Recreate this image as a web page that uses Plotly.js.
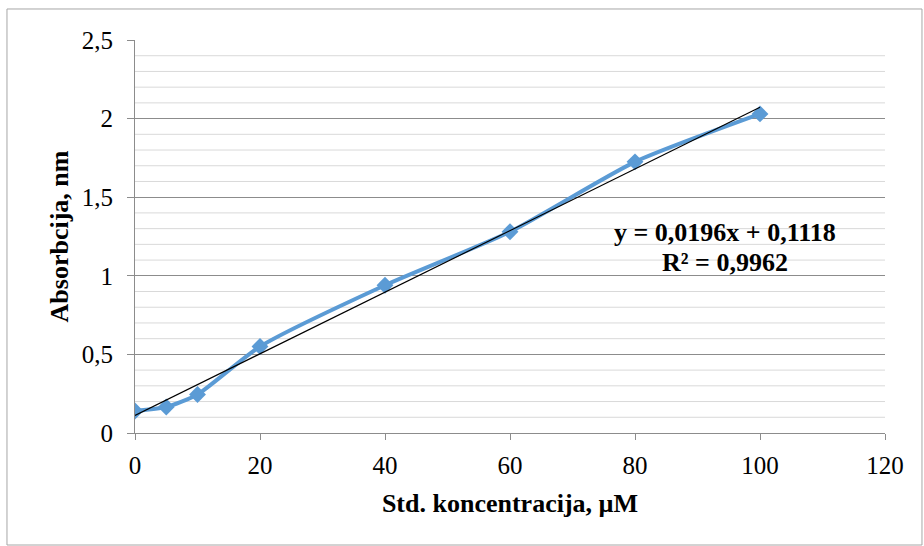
<!DOCTYPE html>
<html>
<head>
<meta charset="utf-8">
<script src="https://cdn.plot.ly/plotly-3.0.1.min.js"></script>
<style>html,body{margin:0;padding:0;background:#fff;}#chart{width:924px;height:546px;}</style>
</head>
<body>
<div id="chart"></div>
<script>
const concentrations = [0, 5, 10, 20, 40, 60, 80, 100];
const absorbance = [0.14, 0.165, 0.245, 0.55, 0.94, 1.28, 1.725, 2.03];
const trendX = [0, 100];
const trendY = [0.1118, 2.0718];
const xTicks = [0, 20, 40, 60, 80, 100, 120];
const yTicks = [0, 0.5, 1, 1.5, 2, 2.5];
const yTickLabels = ['0', '0,5', '1', '1,5', '2', '2,5'];
const equationLines = ['y = 0,0196x + 0,1118', 'R² = 0,9962'];

const font = 'Liberation Serif';

const minorY = [];
for (let i = 1; i < 25; i++) { if (i % 5 !== 0) minorY.push(i / 10); }

const shapes = minorY.map(v => ({
  type: 'line', xref: 'paper', x0: 0, x1: 1, yref: 'y', y0: v, y1: v,
  line: {color: '#d9d9d9', width: 1}, layer: 'below'
}));
shapes.push({
  type: 'rect', xref: 'paper', yref: 'paper',
  x0: -0.1707, x1: 1.0493, y0: -0.285, y1: 1.0789,
  line: {color: '#a6a6a6', width: 1}, fillcolor: 'rgba(0,0,0,0)'
});

const data = [
  {
    x: concentrations, y: absorbance, type: 'scatter', mode: 'lines+markers',
    line: {color: '#5b9bd5', width: 4, shape: 'spline', smoothing: 0.6},
    marker: {symbol: 'diamond', size: 13, color: '#5b9bd5'},
    hoverinfo: 'x+y'
  },
  {
    x: trendX, y: trendY, type: 'scatter', mode: 'lines',
    line: {color: '#000000', width: 1.2}, hoverinfo: 'skip'
  }
];

const annotations = equationLines.map((t, i) => ({
  x: 94.4, y: 1.277 - i * 0.195, xref: 'x', yref: 'y', text: '<b>' + t + '</b>',
  showarrow: false, align: 'center',
  font: {family: font, size: 26, color: '#000'}
}));

const layout = {
  width: 924, height: 546,
  margin: {l: 135, r: 39, t: 40, b: 113},
  paper_bgcolor: '#ffffff', plot_bgcolor: '#ffffff',
  showlegend: false,
  font: {family: font, color: '#000', size: 25},
  xaxis: {
    range: [0, 120], tickvals: xTicks, ticktext: xTicks.map(String),
    showgrid: false, zeroline: false,
    showline: true, linecolor: '#8c8c8c', linewidth: 1,
    ticks: 'outside', ticklen: 6, tickcolor: '#8c8c8c',
    ticklabelstandoff: 4,
    tickfont: {family: font, size: 25, color: '#000'},
    title: {text: '<b>Std. koncentracija, µM</b>', font: {family: font, size: 26, color: '#000'}, standoff: 15}
  },
  yaxis: {
    range: [0, 2.5], tickvals: yTicks, ticktext: yTickLabels,
    showgrid: true, gridcolor: '#8c8c8c', gridwidth: 1,
    zeroline: false,
    showline: true, linecolor: '#8c8c8c', linewidth: 1,
    ticks: 'outside', ticklen: 7, tickcolor: '#8c8c8c',
    ticklabelstandoff: 9,
    tickfont: {family: font, size: 25, color: '#000'},
    title: {text: '<b>Absorbcija, nm</b>', font: {family: font, size: 26, color: '#000'}, standoff: 5}
  },
  shapes: shapes,
  annotations: annotations
};

Plotly.newPlot('chart', data, layout, {displayModeBar: false});
</script>
</body>
</html>
